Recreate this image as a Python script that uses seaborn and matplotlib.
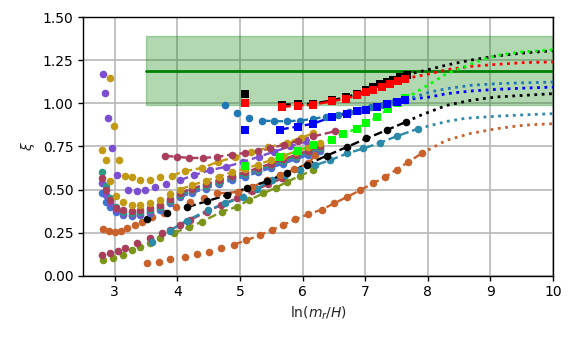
import matplotlib
matplotlib.use("Agg")
import matplotlib.pyplot as plt
import pandas as pd
import seaborn as sns

# ---------------- data ----------------
# colours
C_MAROON = "#a93e5c"
C_GOLD = "#c39a14"
C_PURPLE = "#7b4fcf"
C_TEALG = "#2a9a86"
C_BLUE2 = "#3b78d4"
C_ORANGE = "#c8622a"
C_OLIVE = "#7b951a"
C_TEALB = "#2a8aa8"
C_STEEL = "#1f77b4"

# square-marker series
bsq_x = [5.08, 5.67, 5.92, 6.17, 6.47, 6.69, 6.87, 7.02, 7.13, 7.24, 7.35, 7.45, 7.56, 7.66]
bsq_y = [1.056, 0.992, 0.994, 0.998, 1.017, 1.035, 1.055, 1.075, 1.092, 1.114, 1.124, 1.137, 1.152, 1.166]
rsq_x = [5.08, 5.67, 5.92, 6.17, 6.47, 6.69, 6.87, 7.02, 7.13, 7.27, 7.40, 7.53, 7.64]
rsq_y = [1.004, 0.980, 0.985, 0.992, 1.012, 1.027, 1.046, 1.066, 1.079, 1.094, 1.110, 1.127, 1.143]
blsq_x = [5.08, 5.64, 5.92, 6.17, 6.47, 6.71, 6.87, 7.02, 7.19, 7.35, 7.50, 7.64]
blsq_y = [0.848, 0.848, 0.865, 0.882, 0.921, 0.940, 0.955, 0.963, 0.979, 0.994, 1.008, 1.021]
lsq_x = [5.08, 5.64, 5.92, 6.17, 6.47, 6.65, 6.87, 7.02, 7.19, 7.37, 7.53, 7.64]
lsq_y = [0.635, 0.689, 0.722, 0.757, 0.790, 0.824, 0.853, 0.886, 0.920, 0.969, 1.002, 1.031]

# circle series
steel_x = [4.76, 4.95, 5.15, 5.35, 5.55, 5.75, 5.96, 6.17, 6.37, 6.56, 6.74, 6.92, 7.10, 7.28, 7.46, 7.64]
steel_y = [0.992, 0.944, 0.915, 0.900, 0.896, 0.896, 0.900, 0.910, 0.922, 0.935, 0.948, 0.962, 0.976, 0.990, 1.005, 1.020]

maroonA_x = [3.80, 3.99, 4.19, 4.41, 4.63, 4.87, 5.08, 5.29, 5.48, 5.70, 5.92, 6.17, 6.52]
maroonA_y = [0.695, 0.690, 0.683, 0.683, 0.689, 0.703, 0.712, 0.722, 0.738, 0.760, 0.780, 0.808, 0.838]

goldH_x = [2.93, 2.99, 3.07, 3.16, 3.27, 3.40, 3.56, 3.72, 3.91, 4.12, 4.39, 4.65, 4.92, 5.18, 5.45, 5.75, 5.97, 6.17]
goldH_y = [1.149, 0.869, 0.670, 0.577, 0.573, 0.554, 0.558, 0.570, 0.580, 0.606, 0.625, 0.660, 0.689, 0.715, 0.745, 0.772, 0.800, 0.825]

purpleI_x = [2.81, 2.85, 2.90, 2.96, 3.03, 3.21, 3.35, 3.48, 3.64, 3.82, 4.04, 4.26, 4.52, 4.78, 5.05, 5.30, 5.55, 5.80, 6.05]
purpleI_y = [1.168, 1.062, 0.915, 0.738, 0.587, 0.496, 0.492, 0.496, 0.512, 0.531, 0.554, 0.583, 0.612, 0.632, 0.660, 0.690, 0.720, 0.750, 0.780]

# lower left cluster (five nearly overlapping series)
clu_x = [2.80, 2.86, 2.93, 3.02, 3.14, 3.27, 3.40, 3.56, 3.72, 3.88, 4.04, 4.23, 4.45, 4.66,
         4.87, 5.08, 5.29, 5.49, 5.69, 5.89, 6.09, 6.28]
blue2_y = [0.480, 0.430, 0.400, 0.370, 0.351, 0.347, 0.352, 0.361, 0.384, 0.419, 0.455, 0.480,
           0.505, 0.530, 0.555, 0.575, 0.600, 0.625, 0.650, 0.675, 0.700, 0.725]
tealg_y = [0.600, 0.520, 0.450, 0.400, 0.370, 0.365, 0.370, 0.380, 0.400, 0.435, 0.470, 0.495,
           0.520, 0.545, 0.570, 0.590, 0.615, 0.640, 0.665, 0.690, 0.715, 0.740]
maroon2_y = [0.565, 0.500, 0.440, 0.395, 0.380, 0.375, 0.380, 0.390, 0.410, 0.445, 0.480, 0.505,
             0.530, 0.555, 0.580, 0.600, 0.625, 0.650, 0.675, 0.700, 0.725, 0.750]
purple2_y = [0.540, 0.470, 0.420, 0.380, 0.360, 0.355, 0.360, 0.370, 0.395, 0.430, 0.465, 0.490,
             0.515, 0.540, 0.565, 0.585, 0.610, 0.635, 0.660, 0.685, 0.710, 0.735]
gold2_y = [0.728, 0.674, 0.550, 0.460, 0.428, 0.410, 0.410, 0.419, 0.438, 0.473, 0.500, 0.525,
           0.550, 0.575, 0.600, 0.620, 0.645, 0.670, 0.695, 0.720, 0.745, 0.770]

orangeC_x = [2.82, 2.91, 3.00, 3.10, 3.20, 3.32, 3.44, 3.59, 3.78, 3.98, 4.20, 4.42, 4.63, 4.97,
             5.20, 5.43, 5.64, 5.87, 6.09, 6.20]
orangeC_y = [0.270, 0.259, 0.255, 0.260, 0.274, 0.294, 0.313, 0.342, 0.365, 0.400, 0.425, 0.452,
             0.477, 0.486, 0.515, 0.554, 0.583, 0.618, 0.651, 0.700]

blackD_x = [3.51, 3.84, 4.16, 4.47, 4.79, 5.11, 5.43, 5.75, 6.07, 6.39, 6.71, 7.02, 7.34, 7.65]
blackD_y = [0.328, 0.365, 0.398, 0.432, 0.468, 0.508, 0.548, 0.595, 0.645, 0.697, 0.747, 0.796, 0.844, 0.892]

orangeB_x = [3.51, 3.70, 3.89, 4.12, 4.31, 4.50, 4.70, 4.90, 5.10, 5.32, 5.51, 5.69, 5.88, 6.09,
             6.31, 6.50, 6.71, 6.92, 7.12, 7.32, 7.50, 7.69, 7.90]
orangeB_y = [0.072, 0.081, 0.095, 0.110, 0.124, 0.139, 0.160, 0.180, 0.205, 0.236, 0.265, 0.294,
             0.327, 0.356, 0.384, 0.419, 0.457, 0.496, 0.535, 0.573, 0.616, 0.660, 0.709]

tealB_x = [3.59, 3.88, 4.15, 4.49, 4.76, 5.05, 5.27, 5.51, 5.72, 5.96, 6.20, 6.44, 6.71, 6.97,
           7.23, 7.50, 7.85]
tealB_y = [0.197, 0.262, 0.320, 0.380, 0.419, 0.457, 0.505, 0.554, 0.583, 0.612, 0.641, 0.670,
           0.709, 0.738, 0.770, 0.809, 0.853]

maroonE_x = [2.79, 2.92, 3.06, 3.16, 3.35, 3.56, 3.75, 3.88, 4.05, 4.20, 4.47, 4.70, 4.95, 5.20,
             5.45, 5.67]
maroonE_y = [0.120, 0.133, 0.143, 0.159, 0.188, 0.217, 0.245, 0.265, 0.295, 0.323, 0.371, 0.410,
             0.450, 0.490, 0.530, 0.564]

oliveG_x = [2.82, 2.98, 3.14, 3.27, 3.40, 3.56, 3.72, 3.94, 4.18, 4.39, 4.71, 4.95, 5.15, 5.37,
            5.57, 5.75, 5.96, 6.17]
oliveG_y = [0.091, 0.100, 0.120, 0.149, 0.168, 0.190, 0.217, 0.249, 0.280, 0.313, 0.371, 0.400,
            0.440, 0.477, 0.510, 0.544, 0.580, 0.612]

# dotted extrapolations
dot_blacktop_x = [7.66, 8.04, 8.30, 8.68, 9.10, 9.53, 10.0]
dot_blacktop_y = [1.166, 1.198, 1.222, 1.250, 1.275, 1.292, 1.305]
dot_red_x = [7.64, 8.04, 8.30, 8.68, 9.10, 9.53, 10.0]
dot_red_y = [1.143, 1.172, 1.195, 1.214, 1.226, 1.236, 1.240]
dot_lime_x = [7.64, 7.77, 8.04, 8.30, 8.57, 8.84, 9.10, 9.47, 10.0]
dot_lime_y = [1.031, 1.056, 1.114, 1.172, 1.210, 1.249, 1.278, 1.297, 1.311]
dot_steel_x = [7.64, 8.04, 8.30, 8.68, 9.10, 9.53, 10.0]
dot_steel_y = [1.020, 1.066, 1.085, 1.104, 1.114, 1.119, 1.123]
dot_blue_x = [7.64, 8.04, 8.30, 8.68, 9.10, 9.53, 10.0]
dot_blue_y = [1.021, 1.037, 1.056, 1.071, 1.081, 1.088, 1.094]
dot_blacklow_x = [7.65, 7.88, 8.30, 8.68, 9.10, 9.53, 10.0]
dot_blacklow_y = [0.892, 0.930, 0.988, 1.017, 1.037, 1.046, 1.056]
dot_teal_x = [7.85, 8.30, 8.57, 8.68, 9.10, 9.53, 10.0]
dot_teal_y = [0.853, 0.895, 0.911, 0.915, 0.925, 0.933, 0.940]
dot_orange_x = [7.90, 8.30, 8.68, 9.10, 9.53, 10.0]
dot_orange_y = [0.709, 0.786, 0.825, 0.853, 0.873, 0.882]

band_x = [3.5, 10.0]
band_lo, band_hi, band_mid = 0.99, 1.39, 1.19

# ---------------- drawing ----------------
sns.set_style("ticks")
plt.rcParams["font.family"] = ["DejaVu Sans"]
plt.rcParams["font.size"] = 10

fig = plt.figure(figsize=(5.81, 3.49), dpi=100)
ax = fig.add_axes([0.1435, 0.21, 0.8085, 0.741])
ax.grid(True, color="#b8b8b8", lw=1.2, zorder=0)
ax.set_axisbelow(True)

# green band
ax.fill_between(band_x, band_lo, band_hi, color="green", alpha=0.3, lw=1, zorder=1)
sns.lineplot(x=band_x, y=[band_mid, band_mid], color="green", lw=2, ax=ax, zorder=2)


def series(xs, ys, color, marker="o", line_from=None, s=30, ls="--", lw=1.7):
    df = pd.DataFrame({"x": xs, "y": ys})
    if line_from is not None:
        d2 = df[df.x >= line_from]
        sns.lineplot(data=d2, x="x", y="y", color=color, linestyle=ls, lw=lw,
                     sort=False, estimator=None, ax=ax, zorder=3)
    sns.scatterplot(data=df, x="x", y="y", color=color, marker=marker, s=s,
                    linewidth=0, ax=ax, zorder=4)


def dotted(xs, ys, color):
    sns.lineplot(x=xs, y=ys, color=color, linestyle=":", lw=2, sort=False,
                 estimator=None, ax=ax, zorder=3)


# dotted extrapolations
dotted(dot_orange_x, dot_orange_y, C_ORANGE)
dotted(dot_teal_x, dot_teal_y, C_TEALB)
dotted(dot_blacklow_x, dot_blacklow_y, "black")
dotted(dot_blue_x, dot_blue_y, "blue")
dotted(dot_steel_x, dot_steel_y, C_STEEL)
dotted(dot_red_x, dot_red_y, "red")
dotted(dot_blacktop_x, dot_blacktop_y, "black")
dotted(dot_lime_x, dot_lime_y, "lime")

# circle series
series(orangeB_x, orangeB_y, C_ORANGE, line_from=4.85)
series(oliveG_x, oliveG_y, C_OLIVE, line_from=3.9)
series(maroonE_x, maroonE_y, C_MAROON, line_from=3.9)
series(tealB_x, tealB_y, C_TEALB, line_from=3.8)
series(orangeC_x, orangeC_y, C_ORANGE, line_from=4.6)
series(blackD_x, blackD_y, "black", line_from=4.1)
series(clu_x, blue2_y, C_BLUE2, line_from=4.0)
series(clu_x, purple2_y, C_PURPLE, line_from=4.0)
series(clu_x, tealg_y, C_TEALG, line_from=4.0)
series(clu_x, maroon2_y, C_MAROON, line_from=4.0)
series(clu_x, gold2_y, C_GOLD, line_from=4.0)
series(purpleI_x, purpleI_y, C_PURPLE, line_from=4.0)
series(goldH_x, goldH_y, C_GOLD, line_from=3.9)
series(maroonA_x, maroonA_y, C_MAROON, line_from=3.75)
series(steel_x, steel_y, C_STEEL, line_from=5.3)

# square series
series(lsq_x, lsq_y, "lime", marker="s", line_from=5.6, s=26)
series(blsq_x, blsq_y, "blue", marker="s", line_from=5.6, s=26)
series(bsq_x, bsq_y, "black", marker="s", line_from=5.6, s=26)
series(rsq_x, rsq_y, "red", marker="s", line_from=5.6, s=26)

ax.set_xlim(2.5, 10)
ax.set_ylim(0, 1.5)
ax.set_xticks([3, 4, 5, 6, 7, 8, 9, 10])
ax.set_yticks([0, 0.25, 0.5, 0.75, 1.0, 1.25, 1.5])
ax.set_yticklabels(["0.00", "0.25", "0.50", "0.75", "1.00", "1.25", "1.50"])
ax.set_xlabel(r"$\ln(m_r/H)$")
ax.set_ylabel(r"$\xi$")
for sp in ax.spines.values():
    sp.set_visible(True)
    sp.set_color("black")
    sp.set_linewidth(1)
ax.tick_params(direction="out", length=3.5, width=1, colors="black")

fig.savefig("out.png", dpi=100)
